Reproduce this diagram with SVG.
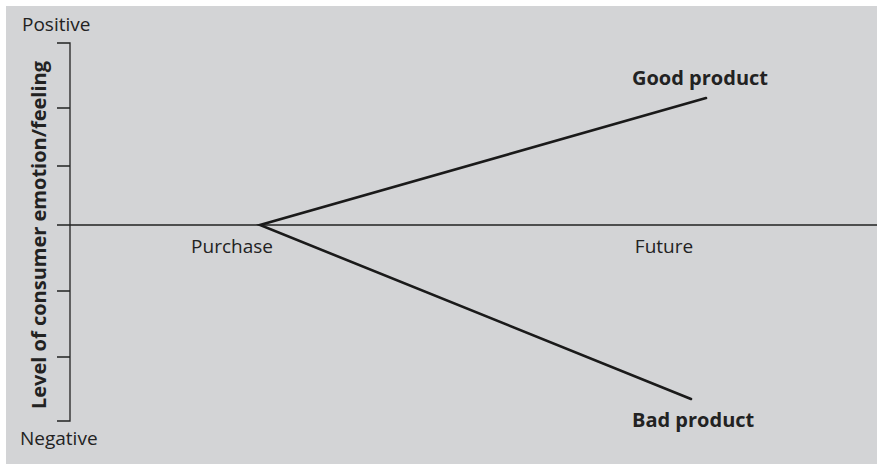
<svg xmlns="http://www.w3.org/2000/svg" width="877" height="466" viewBox="0 0 877 466">
<style>
.t{font-family:"Open Sans","Noto Sans","Liberation Sans",sans-serif;font-size:19px;fill:#222}
.b{font-weight:bold;font-size:20px}
.ax{stroke:#222;stroke-width:1.3;fill:none}
.ln{stroke:#1a1a1a;stroke-width:2.6;fill:none;stroke-linecap:round}
</style>
<rect x="0" y="0" width="877" height="466" fill="#fff"/>
<rect x="6" y="6" width="871" height="458" fill="#d3d4d6"/>
<g id="axes">
<path class="ax" d="M57 43H70V421H57M57 108H70M57 166H70M57 291H70M57 357H70M57 225H877"/>
</g>
<g id="connectors">
<path class="ln" d="M706 98L260 225L691 399"/>
</g>
<g id="labels">
<text class="t" x="22" y="31">Positive</text>
<text class="t" x="20" y="445">Negative</text>
<text class="t" x="232" y="253" text-anchor="middle">Purchase</text>
<text class="t" x="664" y="253" text-anchor="middle">Future</text>
<text class="t b" x="632" y="85">Good product</text>
<text class="t b" x="632" y="427">Bad product</text>
<text class="t b" transform="translate(46,235) rotate(-90)" text-anchor="middle">Level of consumer emotion/feeling</text>
</g>
</svg>
